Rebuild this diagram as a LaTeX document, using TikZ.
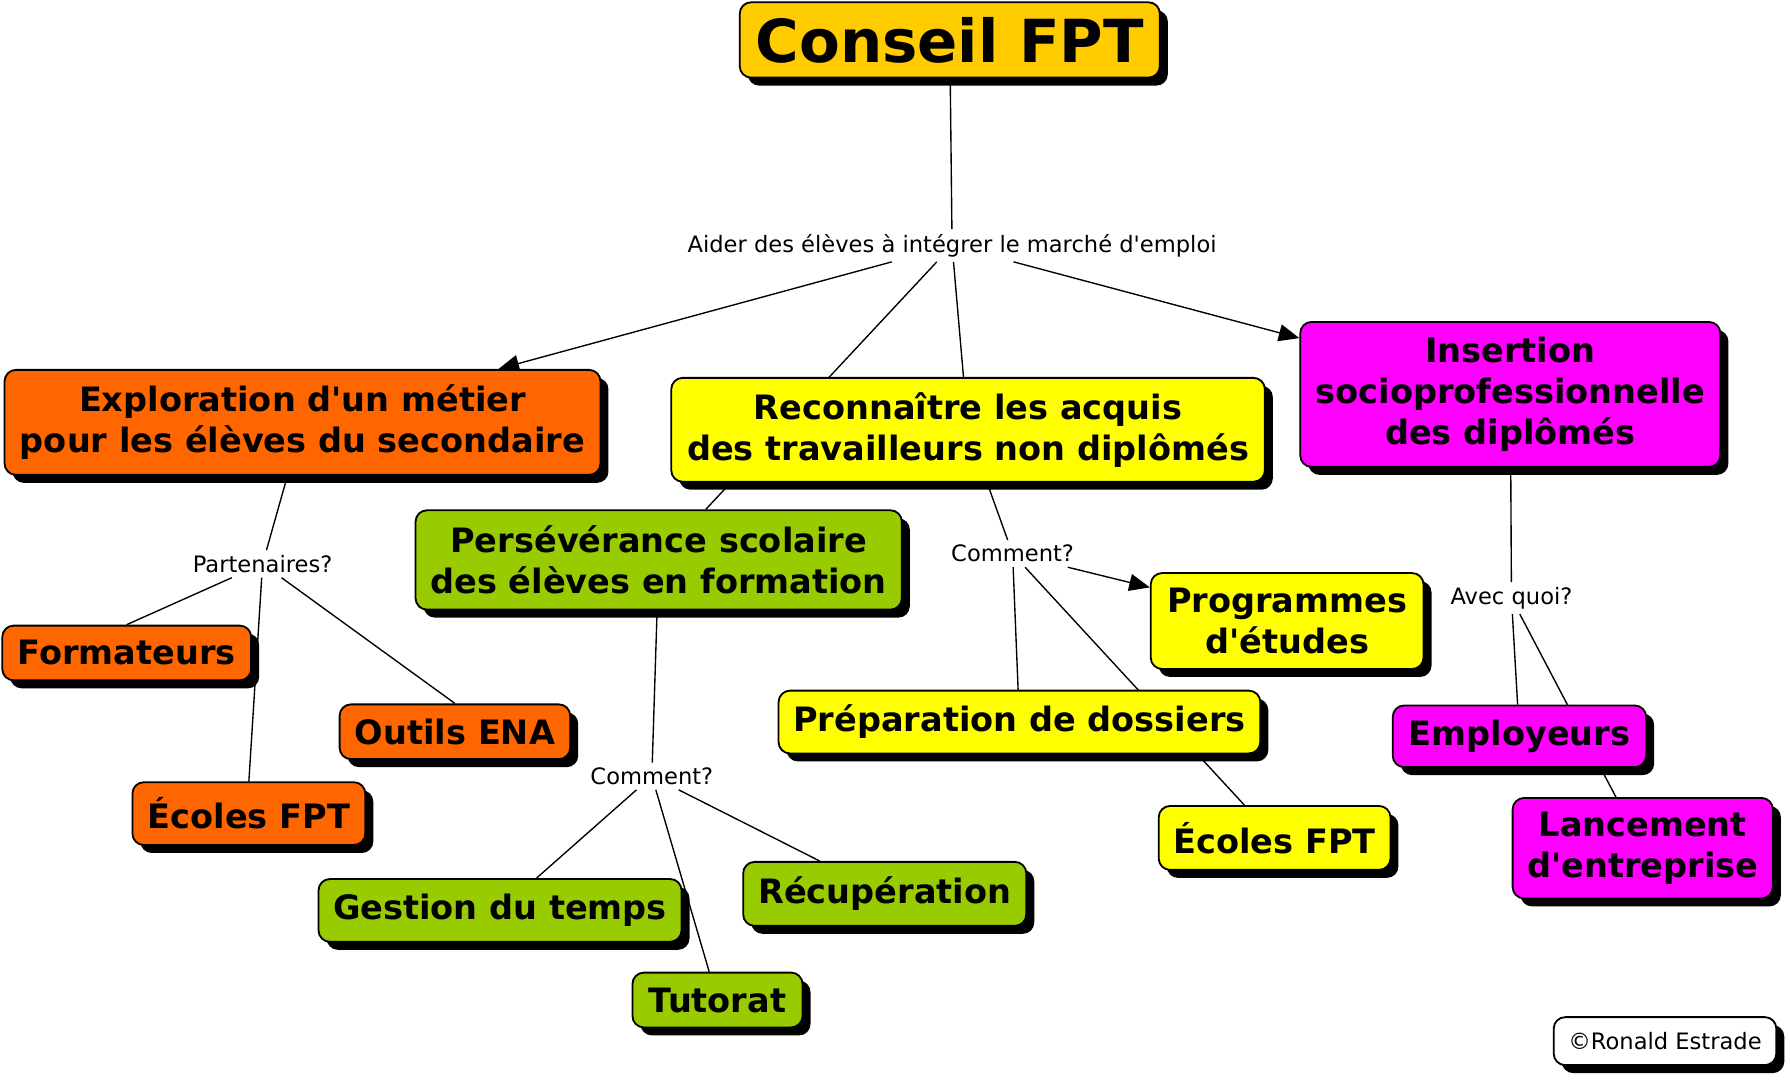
\documentclass[tikz,border=0pt]{standalone}
\usepackage{fontspec}
\setmainfont{DejaVu Sans}
\usetikzlibrary{shadows}
\usetikzlibrary{backgrounds}
\usetikzlibrary{arrows.meta}
\definecolor{gold}{HTML}{FFCC00}
\definecolor{orng}{HTML}{FF6600}
\definecolor{yllw}{HTML}{FFFF00}
\definecolor{mgnt}{HTML}{FF00FF}
\definecolor{grn}{HTML}{99CC00}
\tikzset{
    cnode/.style = {rectangle, rounded corners=5pt, line width=0.8pt, draw=black, align=center, inner sep=0pt,
        font=\bfseries\fontsize{14.7}{18}\selectfont,
        drop shadow={shadow xshift=3.5pt, shadow yshift=-3.5pt, fill=black, opacity=1}},
    cnodet/.style = {cnode, fill=gold, font=\bfseries\fontsize{26}{30}\selectfont},
    cnodeo/.style = {cnode, fill=orng},
    cnodey/.style = {cnode, fill=yllw},
    cnodem/.style = {cnode, fill=mgnt},
    cnodeg/.style = {cnode, fill=grn},
    cnodec/.style = {cnode, fill=white, font=\fontsize{9.9}{12}\selectfont},
    linkp/.style = {inner sep=2pt, font=\fontsize{9.9}{12}\selectfont},
    edgen/.style = {line width=0.6pt},
    edgea/.style = {-{Triangle[length=9pt,width=7.5pt]}, line width=0.6pt}
}

\begin{document}
\begin{tikzpicture}[x=0.5pt, y=-0.5pt]
  \useasboundingbox (0,0) rectangle (1568,946);

  \node[cnodet, minimum width=184pt, minimum height=33pt] (conseil) at (832,35) {Conseil FPT};
  \node[linkp] (aider) at (834,215) {Aider des élèves à intégrer le marché d\textquotesingle emploi};

  \node[cnodeo, minimum width=261pt, minimum height=46pt] (explo) at (265,370) {Exploration d\textquotesingle un métier\\pour les élèves du secondaire};
  \node[cnodey, minimum width=260pt, minimum height=45.5pt] (reco) at (848,376.5) {Reconnaître les acquis\\des travailleurs non diplômés};
  \node[cnodem, minimum width=184pt, minimum height=63.5pt] (insert) at (1323,345.5) {Insertion\\socioprofessionnelle\\des diplômés};
  \node[cnodeg, minimum width=213pt, minimum height=43.5pt] (perse) at (577,490.5) {Persévérance scolaire\\des élèves en formation};

  % partenaires
  \node[linkp] (parten) at (230,494) {Partenaires?};
  \node[cnodeo, minimum width=109pt, minimum height=24pt] (format) at (111,572) {Formateurs};
  \node[cnodeo, minimum width=101pt, minimum height=24pt] (outils) at (398.5,641) {Outils ENA};
  \node[cnodeo, minimum width=102pt, minimum height=27.5pt] (ecolo) at (218,712.7) {Écoles FPT};

  % perseverance
  \node[linkp] (commg) at (571,680) {Comment?};
  \node[cnodeg, minimum width=159pt, minimum height=27.5pt] (gestion) at (438,797.5) {Gestion du temps};
  \node[cnodeg, minimum width=124pt, minimum height=28pt] (recup) at (775,783) {Récupération};
  \node[cnodeg, minimum width=74.5pt, minimum height=24pt] (tutorat) at (628.5,876) {Tutorat};

  % acquis
  \node[linkp] (commy) at (887,485) {Comment?};
  \node[cnodey, minimum width=119.5pt, minimum height=42pt] (progr) at (1127.5,544) {Programmes\\d\textquotesingle études};
  \node[cnodey, minimum width=211pt, minimum height=27.5pt] (prepa) at (893,632.5) {Préparation de dossiers};
  \node[cnodey, minimum width=101.5pt, minimum height=28pt] (ecoly) at (1116.5,734) {Écoles FPT};

  % insertion
  \node[linkp] (avec) at (1324,524) {Avec quoi?};
  \node[cnodem, minimum width=111pt, minimum height=27pt] (emplo) at (1331,645) {Employeurs};
  \node[cnodem, minimum width=114pt, minimum height=44pt] (lance) at (1439,743) {Lancement\\d\textquotesingle entreprise};

  \node[cnodec, minimum width=97.5pt, minimum height=21pt] (copyr) at (1458.5,912) {©Ronald Estrade};

  \begin{pgfonlayer}{background}
    \draw[edgen] (conseil) -- (aider);
    \draw[edgea] (aider) -- (explo);
    \draw[edgen] (aider) -- (perse);
    \draw[edgen] (aider) -- (reco);
    \draw[edgea] (aider) -- (insert);

    \draw[edgen] (explo) -- (parten);
    \draw[edgen] (parten) -- (format.north);
    \draw[edgen] (parten) -- (ecolo.north);
    \draw[edgen] (parten) -- (outils.north);

    \draw[edgen] (perse) -- (commg);
    \draw[edgen] (commg) -- (gestion);
    \draw[edgen] (commg) -- (tutorat);
    \draw[edgen] (commg) -- (recup);

    \draw[edgen] (reco) -- (commy);
    \draw[edgea] (commy) -- (progr);
    \draw[edgen] (commy) -- (prepa);
    \draw[edgen] (commy) -- (ecoly);

    \draw[edgen] (insert) -- (avec);
    \draw[edgen] (avec) -- (emplo);
    \draw[edgen] (avec) -- (lance);
  \end{pgfonlayer}
\end{tikzpicture}
\end{document}
